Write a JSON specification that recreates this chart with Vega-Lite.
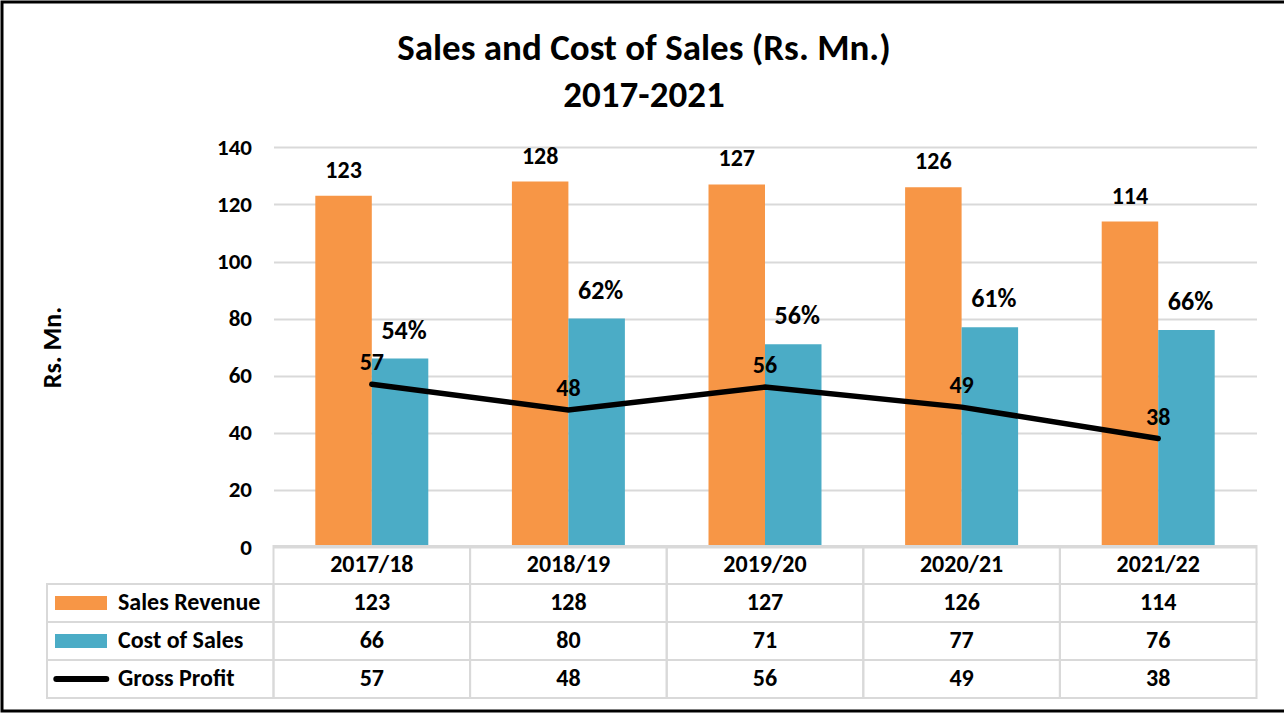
{
  "$schema": "https://vega.github.io/schema/vega-lite/v6.json",
  "width": 1284,
  "height": 709,
  "autosize": {"type": "none"},
  "padding": {"left": 2, "top": 2, "right": 0, "bottom": 2},
  "background": "white",
  "title": {
    "text": ["Sales and Cost of Sales (Rs. Mn.)", "2017-2021"],
    "font": "Carlito, Calibri, Lato",
    "fontSize": 37,
    "fontWeight": "bold",
    "color": "#000000",
    "anchor": "middle",
    "frame": "group",
    "lineHeight": 47,
    "offset": -113
  },
  "datasets": {
    "fin": [
      {"year": "2017/18", "sales": 123, "cost": 66, "profit": 57, "pct": "54%"},
      {"year": "2018/19", "sales": 128, "cost": 80, "profit": 48, "pct": "62%"},
      {"year": "2019/20", "sales": 127, "cost": 71, "profit": 56, "pct": "56%"},
      {"year": "2020/21", "sales": 126, "cost": 77, "profit": 49, "pct": "61%"},
      {"year": "2021/22", "sales": 114, "cost": 76, "profit": 38, "pct": "66%"}
    ],
    "legendRows": [
      {"row": "sales", "label": "Sales Revenue"},
      {"row": "cost", "label": "Cost of Sales"},
      {"row": "profit", "label": "Gross Profit"}
    ]
  },
  "layer": [
    {
      "data": {"name": "fin"},
      "layer": [
        {
          "transform": [{"fold": ["sales", "cost"], "as": ["series", "value"]}],
          "mark": {"type": "bar"},
          "encoding": {
            "x": {"field": "year", "type": "nominal", "axis": null,
                  "scale": {"domain": ["2017/18", "2018/19", "2019/20", "2020/21", "2021/22"], "range": [271.5, 1254.5], "paddingInner": 0, "paddingOuter": 0}},
            "xOffset": {"field": "series", "type": "nominal",
                        "scale": {"domain": ["sales", "cost"], "paddingInner": 0, "paddingOuter": 0.74}},
            "y": {"field": "value", "type": "quantitative",
                  "scale": {"domain": [0, 140], "range": [545, 145.3], "nice": false, "zero": true},
                  "axis": {
                    "values": [0, 20, 40, 60, 80, 100, 120, 140],
                    "offset": -271.5,
                    "grid": true, "gridColor": "#d9d9d9", "gridWidth": 2,
                    "ticks": false, "domain": false,
                    "labelFont": "Carlito, Calibri, Lato", "labelFontSize": 23, "labelFontWeight": "bold", "labelColor": "#000000", "labelPadding": 22,
                    "title": "Rs. Mn.",
                    "titleFont": "Carlito, Calibri, Lato", "titleFontSize": 26, "titleFontWeight": "bold", "titleColor": "#000000",
                    "titleX": -221.5, "titleY": 345, "titleAngle": -90, "titleAlign": "center", "titleBaseline": "middle"
                  }},
            "color": {"field": "series", "type": "nominal", "legend": null,
                      "scale": {"domain": ["sales", "cost", "profit"], "range": ["#F79646", "#4BACC6", "#000000"]}}
          }
        },
        {
          "mark": {"type": "text", "dy": -25, "fontSize": 24},
          "encoding": {
            "x": {"field": "year", "type": "nominal", "axis": null},
            "xOffset": {"datum": "sales", "type": "nominal"},
            "y": {"field": "sales", "type": "quantitative"},
            "text": {"field": "sales", "type": "quantitative"}
          }
        },
        {
          "mark": {"type": "text", "dy": -28, "dx": 4, "fontSize": 26},
          "encoding": {
            "x": {"field": "year", "type": "nominal", "axis": null},
            "xOffset": {"datum": "cost", "type": "nominal"},
            "y": {"field": "cost", "type": "quantitative"},
            "text": {"field": "pct", "type": "nominal"}
          }
        },
        {
          "mark": {"type": "line", "color": "#000000", "strokeWidth": 5.5, "strokeCap": "round"},
          "encoding": {
            "x": {"field": "year", "type": "nominal", "axis": null},
            "y": {"field": "profit", "type": "quantitative"}
          }
        },
        {
          "mark": {"type": "text", "dy": -21, "fontSize": 24},
          "encoding": {
            "x": {"field": "year", "type": "nominal", "axis": null},
            "y": {"field": "profit", "type": "quantitative"},
            "text": {"field": "profit", "type": "quantitative"}
          }
        }
      ]
    },
    {
      "layer": [
        {
          "data": {"name": "fin"},
          "transform": [{"fold": ["sales", "cost", "profit"], "as": ["row", "value"]}],
          "mark": {"type": "rect", "filled": false, "stroke": "#d9d9d9", "strokeWidth": 2},
          "encoding": {
            "x": {"field": "year", "type": "nominal", "axis": null},
            "y": {"field": "row", "type": "nominal", "axis": null,
                  "scale": {"domain": ["header", "sales", "cost", "profit"], "range": [544, 696], "paddingInner": 0, "paddingOuter": 0}}
          }
        },
        {
          "data": {"name": "fin"},
          "mark": {"type": "rect", "filled": false, "stroke": "#d9d9d9", "strokeWidth": 2},
          "encoding": {
            "x": {"field": "year", "type": "nominal", "axis": null},
            "y": {"datum": "header", "type": "nominal", "axis": null}
          }
        },
        {
          "data": {"name": "legendRows"},
          "mark": {"type": "rect", "filled": false, "stroke": "#d9d9d9", "strokeWidth": 2, "xOffset": -226.5, "x2Offset": 0},
          "encoding": {
            "x": {"datum": "2017/18", "type": "nominal", "bandPosition": 0, "axis": null},
            "x2": {"datum": "2017/18", "bandPosition": 0},
            "y": {"field": "row", "type": "nominal", "axis": null}
          }
        },
        {
          "data": {"name": "legendRows"},
          "transform": [{"filter": "datum.row !== 'profit'"}],
          "mark": {"type": "rule", "strokeWidth": 14, "strokeCap": "butt", "xOffset": -218.5, "x2Offset": -166.5},
          "encoding": {
            "x": {"datum": "2017/18", "type": "nominal", "bandPosition": 0, "axis": null},
            "x2": {"datum": "2017/18", "bandPosition": 0},
            "y": {"field": "row", "type": "nominal", "bandPosition": 0.5, "axis": null},
            "color": {"field": "row", "type": "nominal", "legend": null}
          }
        },
        {
          "data": {"name": "legendRows"},
          "transform": [{"filter": "datum.row === 'profit'"}],
          "mark": {"type": "rule", "strokeWidth": 6, "strokeCap": "round", "color": "#000000", "xOffset": -217.2, "x2Offset": -167.2},
          "encoding": {
            "x": {"datum": "2017/18", "type": "nominal", "bandPosition": 0, "axis": null},
            "x2": {"datum": "2017/18", "bandPosition": 0},
            "y": {"field": "row", "type": "nominal", "bandPosition": 0.5, "axis": null}
          }
        },
        {
          "data": {"name": "legendRows"},
          "mark": {"type": "text", "align": "left", "dx": -155.5, "fontSize": 24},
          "encoding": {
            "x": {"datum": "2017/18", "type": "nominal", "bandPosition": 0, "axis": null},
            "y": {"field": "row", "type": "nominal", "axis": null},
            "text": {"field": "label", "type": "nominal"}
          }
        },
        {
          "data": {"name": "fin"},
          "mark": {"type": "text", "fontSize": 24},
          "encoding": {
            "x": {"field": "year", "type": "nominal", "axis": null},
            "y": {"datum": "header", "type": "nominal", "axis": null},
            "text": {"field": "year", "type": "nominal"}
          }
        },
        {
          "data": {"name": "fin"},
          "transform": [{"fold": ["sales", "cost", "profit"], "as": ["row", "value"]}],
          "mark": {"type": "text", "fontSize": 24},
          "encoding": {
            "x": {"field": "year", "type": "nominal", "axis": null},
            "y": {"field": "row", "type": "nominal", "axis": null},
            "text": {"field": "value", "type": "quantitative"}
          }
        }
      ]
    }
  ],
  "resolve": {"scale": {"y": "independent"}},
  "config": {
    "font": "Carlito, Calibri, Lato",
    "view": {"stroke": "#000000", "strokeWidth": 3},
    "text": {"font": "Carlito, Calibri, Lato", "fontWeight": "bold", "color": "#000000", "baseline": "middle"}
  }
}
